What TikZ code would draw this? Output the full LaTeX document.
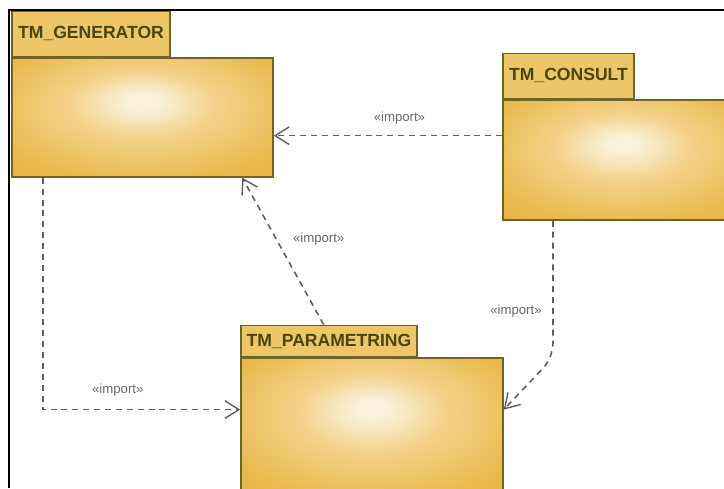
\documentclass[tikz,border=0pt]{standalone}
\usepackage{fontspec}
\setmainfont{Liberation Sans}
\usetikzlibrary{arrows.meta,positioning,calc}
\definecolor{pkgline}{RGB}{112,100,36}
\definecolor{pkgtext}{RGB}{74,70,16}
\definecolor{tabfill}{RGB}{236,198,104}
\definecolor{glowin}{RGB}{250,242,220}
\definecolor{glowmid}{RGB}{243,210,138}
\definecolor{glowout}{RGB}{234,186,78}
\definecolor{glowedge}{RGB}{222,164,42}
\definecolor{depline}{RGB}{95,95,90}
\definecolor{deptext}{RGB}{105,105,105}
\pgfdeclareradialshading{pkgglow}{\pgfpoint{0bp}{7bp}}{%
  color(0bp)=(glowin); color(3bp)=(glowin); color(14bp)=(glowmid);
  color(30bp)=(glowout); color(62bp)=(glowedge)}
\tikzset{
  pkgbody/.style={rectangle,draw=pkgline,line width=0.9pt,shading=pkgglow,inner sep=0pt},
  pkgtab/.style={rectangle,draw=pkgline,line width=0.9pt,fill=tabfill,inner sep=0pt,
    font=\fontsize{10}{12}\selectfont\bfseries,text=pkgtext,anchor=south west},
  imp/.style={depline,line width=0.9pt,dash pattern=on 3.4pt off 2.8pt,
    -{Straight Barb[length=8pt,width=10pt,line width=0.8pt]}},
  lbl/.style={font=\fontsize{7.5}{9}\selectfont,text=deptext,inner sep=1pt},
}

\begin{document}
\begin{tikzpicture}[x=0.02cm,y=0.02cm]
\useasboundingbox (0,0) rectangle (724,488);
\clip (0,0) rectangle (724,488);
\draw[line width=1.1pt] (9,0) -- (9,478) -- (724,478);
% packages
\node[pkgbody,minimum width=5.22cm,minimum height=2.38cm] (gen) at (142.5,370.5) {};
\node[pkgtab,minimum width=3.16cm,minimum height=0.9cm] (gentab) at (gen.north west) {TM\_GENERATOR};
\node[pkgbody,minimum width=4.8cm,minimum height=2.4cm] (con) at (623,328) {};
\node[pkgtab,minimum width=2.62cm,minimum height=0.9cm] (contab) at (con.north west) {TM\_CONSULT};
\node[pkgbody,minimum width=5.24cm,minimum height=2.8cm] (par) at (372,60) {};
\node[pkgtab,minimum width=3.52cm,minimum height=0.62cm] (partab) at (par.north west) {TM\_PARAMETRING};
% imports
\coordinate (c1) at ($(con.north west)!.3!(con.south west)$);
\draw[imp] (c1) -- node[lbl,above=5pt,pos=.45] (l1) {«import»} (c1 -| gen.east);
\coordinate (c2) at ($(partab.north west)!.47!(partab.north east)$);
\coordinate (g2) at ($(gen.south west)!.88!(gen.south east)$);
\draw[imp] (c2) -- node[lbl,pos=.58,right=8pt] (l2) {«import»} (g2);
\coordinate (g3) at ($(gen.south west)!.12!(gen.south east)$);
\coordinate (p3) at ($(par.north west)!.37!(par.south west)$);
\draw[imp] (g3) |- node[lbl,pos=.69,above=6pt] (l3) {«import»} (p3);
\coordinate (c4) at ($(con.south west)!.21!(con.south east)$);
\coordinate (p4) at ($(par.north east)!.37!(par.south east)$);
\coordinate (k4) at ($(c4)+(0,-137)$);
\draw[imp,rounded corners=8pt] (c4) -- node[lbl,pos=.66,left=5pt] (l4) {«import»} (k4) -- (p4);
\end{tikzpicture}
\end{document}
